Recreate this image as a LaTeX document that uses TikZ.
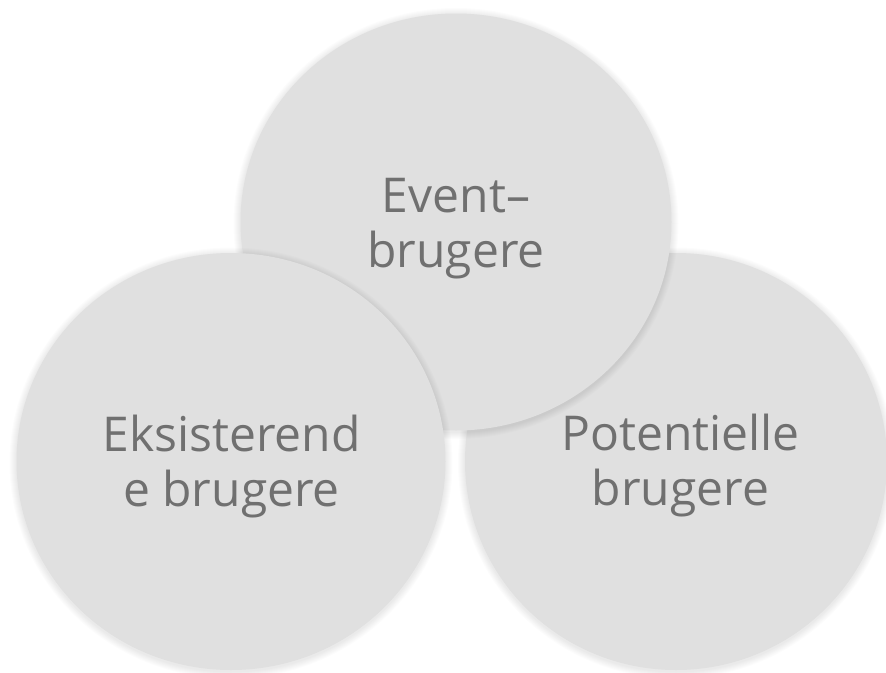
\documentclass[tikz,border=0pt]{standalone}
\usepackage{fontspec}
\setmainfont{Open Sans}
\usetikzlibrary{shapes.geometric}
\definecolor{discfill}{HTML}{E0E0E0}
\definecolor{labelgray}{HTML}{707070}
\tikzset{
  disc/.style={ellipse, fill=discfill, inner sep=0pt, outer sep=0pt},
  disclabel/.style={anchor=base, inner sep=0pt, text=labelgray,
    font=\fontsize{48}{55}\selectfont},
}
% soft halo drawn under a disc: centre, x radius, y radius
\newcommand\dischalo[3]{%
  \foreach \d in {1,...,7}{%
    \fill[black, opacity=0.011] ([yshift=-1.5pt]#1) ellipse [x radius={#2+\d}, y radius={#3+\d}];
  }%
}
\begin{document}
\begin{tikzpicture}[x=1pt, y=-1pt]
  \fill[white] (0,0) rectangle (886,672);
  \useasboundingbox (0,0) rectangle (886,672);

  % right disc (bottom layer)
  \coordinate (cr) at (676,461.5);
  \dischalo{cr}{211}{208.5}
  \node[disc, minimum width=422pt, minimum height=417pt] (potentielle) at (cr) {};

  % top disc
  \coordinate (ct) at (456,222);
  \dischalo{ct}{215.5}{208.5}
  \node[disc, minimum width=431pt, minimum height=417pt] (event) at (ct) {};

  % left disc (top layer)
  \coordinate (cl) at (231,461.5);
  \dischalo{cl}{214.5}{208.5}
  \node[disc, minimum width=429pt, minimum height=417pt] (eksisterende) at (cl) {};

  % labels
  \node[disclabel] (eventtxt) at (456,267)
    {\begin{tabular}[b]{@{}c@{}}Event–\\brugere\end{tabular}};
  \node[disclabel] (eksisterendetxt) at (231.5,506.7)
    {\begin{tabular}[b]{@{}c@{}}Eksisterend\\e brugere\end{tabular}};
  \node[disclabel] (potentielletxt) at (680.5,505.5)
    {\begin{tabular}[b]{@{}c@{}}Potentielle\\brugere\end{tabular}};
\end{tikzpicture}
\end{document}
